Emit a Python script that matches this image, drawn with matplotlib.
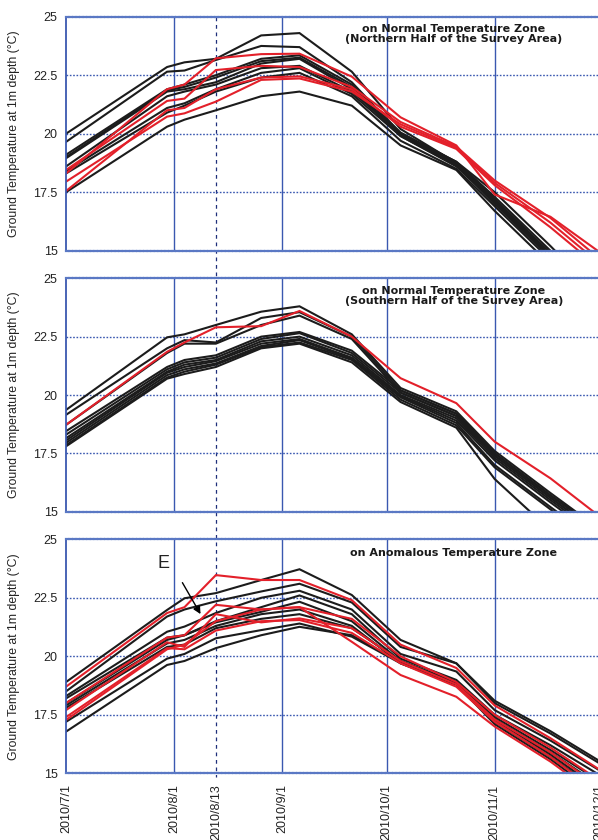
import numpy as np
import matplotlib
matplotlib.use('Agg')
import matplotlib.pyplot as plt
from matplotlib.lines import Line2D

# ---------------- data ----------------
node_dates = np.array(['2010-07-01', '2010-07-30', '2010-08-04', '2010-08-13', '2010-08-26',
                       '2010-09-06', '2010-09-21', '2010-10-05', '2010-10-21', '2010-11-01',
                       '2010-11-17', '2010-12-08'], dtype='datetime64[D]')

tick_dates = np.array(['2010-07-01', '2010-08-01', '2010-08-13', '2010-09-01', '2010-10-01',
                       '2010-11-01', '2010-12-01'], dtype='datetime64[D]')
tick_labels = ['2010/7/1', '2010/8/1', '2010/8/13', '2010/9/1', '2010/10/1', '2010/11/1', '2010/12/1']

# Panel 1: Normal zone, northern half
north_black = [
    [20.0, 22.85, 23.05, 23.2, 24.2, 24.3, 22.65, 20.2, 18.75, 17.2, 14.8, 11.5],
    [19.65, 22.65, 22.7, 23.15, 23.75, 23.7, 22.2, 20.0, 18.7, 17.1, 14.7, 11.5],
    [19.1, 21.9, 22.1, 22.5, 23.2, 23.35, 22.1, 20.05, 18.8, 17.3, 15.0, 11.8],
    [19.0, 21.85, 22.0, 22.4, 23.1, 23.25, 22.0, 19.95, 18.7, 17.2, 14.9, 11.7],
    [18.95, 21.8, 21.9, 22.2, 23.0, 23.2, 21.9, 19.9, 18.65, 17.0, 14.7, 11.5],
    [18.6, 21.6, 21.8, 22.1, 22.8, 22.9, 21.8, 20.0, 18.8, 17.5, 15.2, 12.0],
    [18.4, 21.1, 21.3, 21.9, 22.6, 22.8, 21.7, 19.9, 18.6, 17.1, 14.8, 11.6],
    [18.3, 20.9, 21.2, 21.8, 22.4, 22.6, 21.6, 19.7, 18.5, 16.9, 14.6, 11.4],
    [17.5, 20.3, 20.6, 21.0, 21.6, 21.8, 21.2, 19.5, 18.45, 16.7, 14.4, 11.0],
]
north_red = [
    [18.45, 21.4, 21.5, 22.72, 22.9, 22.85, 22.0, 20.5, 19.45, 18.0, 16.4, 13.8],
    [18.3, 21.9, 22.1, 23.22, 23.4, 23.42, 22.44, 20.7, 19.5, 17.4, 16.45, 14.2],
    [17.95, 20.73, 20.87, 21.37, 22.3, 22.36, 21.8, 20.4, 19.4, 17.9, 16.2, 13.6],
    [17.55, 21.0, 21.1, 21.9, 22.4, 22.45, 21.9, 20.3, 19.35, 17.8, 16.0, 13.4],
]

# Panel 2: Normal zone, southern half
south_black = [
    [19.36, 22.47, 22.6, 23.0, 23.57, 23.8, 22.6, 20.3, 19.3, 17.6, 15.8, 13.5],
    [19.15, 22.0, 22.35, 22.25, 23.3, 23.55, 22.5, 20.2, 19.2, 17.5, 15.7, 13.4],
    [18.72, 21.8, 22.2, 22.2, 23.0, 23.4, 22.4, 20.1, 19.1, 17.4, 15.6, 13.3],
    [18.45, 21.2, 21.5, 21.7, 22.5, 22.7, 21.9, 20.2, 19.2, 17.5, 15.7, 13.5],
    [18.3, 21.1, 21.4, 21.6, 22.4, 22.65, 21.8, 20.1, 19.1, 17.4, 15.6, 13.3],
    [18.15, 21.0, 21.3, 21.5, 22.3, 22.5, 21.7, 20.0, 19.0, 17.3, 15.5, 13.2],
    [18.05, 20.95, 21.2, 21.45, 22.2, 22.4, 21.6, 19.95, 18.9, 17.2, 15.4, 13.1],
    [17.95, 20.85, 21.1, 21.35, 22.1, 22.35, 21.55, 19.9, 18.8, 17.0, 15.2, 12.9],
    [17.85, 20.75, 21.0, 21.3, 22.05, 22.25, 21.5, 19.8, 18.7, 16.9, 15.1, 12.8],
    [17.8, 20.7, 20.9, 21.2, 22.0, 22.2, 21.4, 19.7, 18.6, 16.4, 14.2, 11.5],
]
south_red = [
    [18.72, 21.85, 22.25, 22.9, 22.95, 23.6, 22.5, 20.72, 19.65, 18.0, 16.43, 14.0],
]

# Panel 3: Anomalous zone
anom_black = [
    [18.9, 21.98, 22.48, 22.7, 23.26, 23.72, 22.62, 20.7, 19.7, 18.1, 16.8, 14.9],
    [18.5, 21.7, 22.0, 22.35, 22.77, 23.1, 22.3, 20.4, 19.7, 18.0, 16.7, 14.8],
    [18.3, 21.05, 21.27, 21.85, 22.5, 22.8, 22.0, 20.1, 19.35, 17.7, 16.4, 14.5],
    [18.2, 20.8, 20.9, 21.5, 22.1, 22.6, 21.8, 19.9, 18.99, 17.5, 16.2, 14.3],
    [18.0, 20.7, 20.9, 21.45, 21.9, 22.33, 21.5, 19.8, 18.9, 17.4, 16.0, 14.0],
    [17.9, 20.55, 20.7, 21.3, 21.8, 22.0, 21.3, 19.7, 18.8, 17.3, 15.9, 13.8],
    [17.8, 20.4, 20.5, 21.2, 21.6, 21.8, 21.2, 19.8, 18.85, 17.3, 15.8, 13.6],
    [17.2, 19.9, 20.1, 20.77, 21.12, 21.4, 20.84, 19.7, 18.8, 17.1, 15.6, 13.3],
    [16.78, 19.63, 19.8, 20.35, 20.9, 21.26, 20.9, 19.75, 18.8, 17.2, 15.7, 13.5],
]
anom_red = [
    [18.7, 21.85, 22.1, 23.47, 23.26, 23.26, 22.4, 20.5, 19.5, 17.9, 16.5, 14.5],
    [18.0, 20.8, 20.9, 22.2, 22.0, 22.1, 21.6, 20.0, 18.9, 17.5, 16.1, 14.0],
    [17.7, 20.6, 20.4, 21.8, 21.45, 21.62, 21.2, 19.8, 18.8, 17.3, 15.9, 13.7],
    [17.4, 20.35, 20.3, 21.1, 21.5, 21.55, 21.0, 19.7, 18.7, 17.2, 15.7, 13.4],
    [17.28, 20.3, 20.5, 21.5, 22.0, 22.1, 20.62, 19.2, 18.27, 17.0, 15.5, 13.2],
]

panel_titles = [
    'on Normal Temperature Zone\n(Northern Half of the Survey Area)',
    'on Normal Temperature Zone\n(Southern Half of the Survey Area)',
    'on Anomalous Temperature Zone',
]
y_label = 'Ground Temperature at 1m depth (\u00b0C)'
y_ticks = [15, 17.5, 20, 22.5, 25]
y_tick_labels = ['15', '17.5', '20', '22.5', '25']

# ---------------- figure ----------------
W, H = 598, 840
fig = plt.figure(figsize=(W / 100, H / 100), dpi=100)

x0 = np.datetime64('2010-07-01')
x1 = np.datetime64('2010-12-10')
ax_left = 66 / W
ax_width = 564.6 / W
panel_px = [(16.7, 250.7), (278.3, 511.7), (539.3, 773.3)]

BLUE = '#3a58b0'
BLACK = '#1c1c1c'
RED = '#e3202a'
tick_font = 'Liberation Sans'

axes = []
datasets = [(north_black, north_red), (south_black, south_red), (anom_black, anom_red)]
for i, (top, bot) in enumerate(panel_px):
    ax = fig.add_axes([ax_left, 1 - bot / H, ax_width, (bot - top) / H])
    ax.patch.set_visible(False)
    blacks, reds = datasets[i]
    for s in blacks:
        ax.plot(node_dates, s, color=BLACK, lw=1.5, solid_joinstyle='miter')
    for s in reds:
        ax.plot(node_dates, s, color=RED, lw=1.5, solid_joinstyle='miter')
    ax.set_xlim(x0, x1)
    ax.set_ylim(15, 25)
    ax.set_yticks(y_ticks)
    ax.set_yticklabels(y_tick_labels, fontsize=9, family=tick_font, color='#222222')
    ax.set_xticks(tick_dates)
    if i == 2:
        ax.set_xticklabels(tick_labels, rotation=90, fontsize=9, family=tick_font, color='#222222')
    else:
        ax.set_xticklabels([])
    ax.tick_params(length=0, pad=6)
    ax.tick_params(axis='x', pad=8)
    # grid
    for yv in [17.5, 20, 22.5]:
        ax.axhline(yv, color=BLUE, lw=1.0, ls=(0, (1.2, 1.2)), zorder=0)
    for d in tick_dates:
        if d in (np.datetime64('2010-08-13'), np.datetime64('2010-07-01')):
            continue
        ax.axvline(d, color=BLUE, lw=1.0, zorder=0)
    for side in ['left', 'right']:
        ax.spines[side].set_color(BLUE)
        ax.spines[side].set_linewidth(1.3)
    for side in ['top', 'bottom']:
        ax.spines[side].set_color('#5a78c4')
        ax.spines[side].set_linewidth(1.6)
        ax.spines[side].set_linestyle((0, (1, 0.6)))
    ax.set_ylabel(y_label, fontsize=8.8, family=tick_font, color='#222222')
    ax.yaxis.set_label_coords(-(66 - 20) / 564.6, 0.5)
    # title
    ax.text(0.687, 0.925 if i < 2 else 0.94, panel_titles[i], transform=ax.transAxes,
            ha='center', va='center', fontsize=8, fontweight='bold',
            family='DejaVu Sans', color='#1a1a1a', linespacing=1.05)
    axes.append(ax)

# E annotation on anomalous panel
ax3 = axes[2]
ax3.text(np.datetime64('2010-07-29'), 23.97, 'E', fontsize=13, family=tick_font,
         ha='center', va='center', color='#222222')
ax3.annotate('', xy=(np.datetime64('2010-08-09'), 21.7), xytext=(np.datetime64('2010-08-03'), 23.25),
             arrowprops=dict(arrowstyle='-|>', color='black', lw=1.0, mutation_scale=11))

# dashed vertical line at 2010/8/13 across all panels (behind the data)
fig.canvas.draw()
xd = matplotlib.dates.date2num(np.datetime64('2010-08-13'))
xpix = ax3.transData.transform((xd, 20))[0]
xfig = xpix / W
line = Line2D([xfig, xfig], [1 - 16.7 / H, 1 - 777 / H], transform=fig.transFigure,
              color='#1f2f7a', lw=0.9, ls=(0, (3, 3)), zorder=-1)
fig.add_artist(line)

fig.savefig('out.png', dpi=100)
